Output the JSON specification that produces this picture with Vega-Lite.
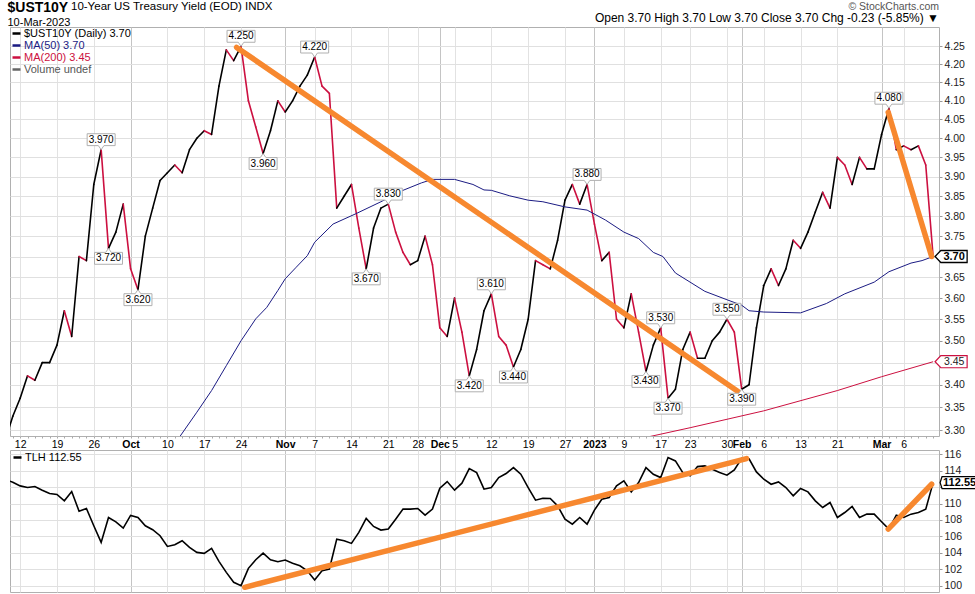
{
  "$schema": "https://vega.github.io/schema/vega-lite/v6.json",
  "background": "white",
  "padding": {"left": 7, "top": 0, "right": 0, "bottom": 0},
  "config": {
    "font": "Liberation Sans",
    "view": {"stroke": "#b0b0b0"},
    "axis": {"labelFont": "Liberation Sans", "labelFontSize": 10.5, "labelColor": "#222", "gridColor": "#e0e0e0", "tickColor": "#999", "domain": false, "title": null, "labelOverlap": false}
  },
  "title": {"text": "$UST10Y", "subtitle": "10-Mar-2023", "anchor": "start", "fontSize": 14, "fontWeight": "bold", "font": "Liberation Sans", "color": "#000", "subtitleFont": "Liberation Sans", "subtitleFontSize": 11, "subtitleColor": "#000", "subtitlePadding": 2, "offset": -28, "dx": -2},
  "spacing": 14,
  "bounds": "flush",
  "resolve": {"scale": {"color": "independent"}, "legend": {"color": "independent"}},
  "datasets": {
    "daily": [
      {"i":-1,"d":"2022-09-08","y10":3.28,"tlh":112.9},
      {"i":0,"d":"2022-09-09","y10":3.33,"tlh":112.6},
      {"i":1,"d":"2022-09-12","y10":3.37,"tlh":112.15},
      {"i":2,"d":"2022-09-13","y10":3.42,"tlh":111.95},
      {"i":3,"d":"2022-09-14","y10":3.41,"tlh":112.07},
      {"i":4,"d":"2022-09-15","y10":3.45,"tlh":111.63},
      {"i":5,"d":"2022-09-16","y10":3.45,"tlh":111.22},
      {"i":6,"d":"2022-09-19","y10":3.49,"tlh":111.10},
      {"i":7,"d":"2022-09-20","y10":3.57,"tlh":110.33},
      {"i":8,"d":"2022-09-21","y10":3.51,"tlh":111.46},
      {"i":9,"d":"2022-09-22","y10":3.70,"tlh":109.07},
      {"i":10,"d":"2022-09-23","y10":3.69,"tlh":109.40},
      {"i":11,"d":"2022-09-26","y10":3.88,"tlh":107.29},
      {"i":12,"d":"2022-09-27","y10":3.97,"tlh":105.27},
      {"i":13,"d":"2022-09-28","y10":3.72,"tlh":108.30},
      {"i":14,"d":"2022-09-29","y10":3.76,"tlh":107.78},
      {"i":15,"d":"2022-09-30","y10":3.83,"tlh":107.01},
      {"i":16,"d":"2022-10-03","y10":3.67,"tlh":108.55},
      {"i":17,"d":"2022-10-04","y10":3.62,"tlh":108.30},
      {"i":18,"d":"2022-10-05","y10":3.75,"tlh":107.29},
      {"i":19,"d":"2022-10-06","y10":3.82,"tlh":106.81},
      {"i":20,"d":"2022-10-07","y10":3.89,"tlh":106.08},
      {"i":21,"d":"2022-10-10","y10":3.91,"tlh":104.78},
      {"i":22,"d":"2022-10-11","y10":3.93,"tlh":104.98},
      {"i":23,"d":"2022-10-12","y10":3.91,"tlh":105.47},
      {"i":24,"d":"2022-10-13","y10":3.97,"tlh":104.66},
      {"i":25,"d":"2022-10-14","y10":4.00,"tlh":104.05},
      {"i":26,"d":"2022-10-17","y10":4.02,"tlh":103.93},
      {"i":27,"d":"2022-10-18","y10":4.01,"tlh":104.54},
      {"i":28,"d":"2022-10-19","y10":4.14,"tlh":102.96},
      {"i":29,"d":"2022-10-20","y10":4.24,"tlh":101.62},
      {"i":30,"d":"2022-10-21","y10":4.21,"tlh":100.41},
      {"i":31,"d":"2022-10-24","y10":4.25,"tlh":100.00},
      {"i":32,"d":"2022-10-25","y10":4.10,"tlh":102.11},
      {"i":33,"d":"2022-10-26","y10":4.03,"tlh":103.16},
      {"i":34,"d":"2022-10-27","y10":3.96,"tlh":103.97},
      {"i":35,"d":"2022-10-28","y10":4.02,"tlh":103.16},
      {"i":36,"d":"2022-10-31","y10":4.10,"tlh":102.92},
      {"i":37,"d":"2022-11-01","y10":4.07,"tlh":103.12},
      {"i":38,"d":"2022-11-02","y10":4.10,"tlh":102.72},
      {"i":39,"d":"2022-11-03","y10":4.14,"tlh":102.43},
      {"i":40,"d":"2022-11-04","y10":4.17,"tlh":101.82},
      {"i":41,"d":"2022-11-07","y10":4.22,"tlh":100.69},
      {"i":42,"d":"2022-11-08","y10":4.14,"tlh":101.82},
      {"i":43,"d":"2022-11-09","y10":4.12,"tlh":102.03},
      {"i":44,"d":"2022-11-10","y10":3.82,"tlh":105.67},
      {"i":45,"d":"2022-11-11","y10":3.85,"tlh":105.47},
      {"i":46,"d":"2022-11-14","y10":3.88,"tlh":105.15},
      {"i":47,"d":"2022-11-15","y10":3.77,"tlh":106.48},
      {"i":48,"d":"2022-11-16","y10":3.67,"tlh":108.18},
      {"i":49,"d":"2022-11-17","y10":3.77,"tlh":107.21},
      {"i":50,"d":"2022-11-18","y10":3.82,"tlh":106.77},
      {"i":51,"d":"2022-11-21","y10":3.83,"tlh":106.89},
      {"i":52,"d":"2022-11-22","y10":3.76,"tlh":108.10},
      {"i":53,"d":"2022-11-23","y10":3.71,"tlh":109.32},
      {"i":54,"d":"2022-11-25","y10":3.68,"tlh":109.32},
      {"i":55,"d":"2022-11-28","y10":3.69,"tlh":109.40},
      {"i":56,"d":"2022-11-29","y10":3.75,"tlh":108.59},
      {"i":57,"d":"2022-11-30","y10":3.68,"tlh":109.32},
      {"i":58,"d":"2022-12-01","y10":3.53,"tlh":111.87},
      {"i":59,"d":"2022-12-02","y10":3.51,"tlh":112.68},
      {"i":60,"d":"2022-12-05","y10":3.60,"tlh":111.63},
      {"i":61,"d":"2022-12-06","y10":3.52,"tlh":112.48},
      {"i":62,"d":"2022-12-07","y10":3.42,"tlh":114.26},
      {"i":63,"d":"2022-12-08","y10":3.48,"tlh":113.77},
      {"i":64,"d":"2022-12-09","y10":3.57,"tlh":111.75},
      {"i":65,"d":"2022-12-12","y10":3.61,"tlh":111.95},
      {"i":66,"d":"2022-12-13","y10":3.51,"tlh":113.16},
      {"i":67,"d":"2022-12-14","y10":3.49,"tlh":113.65},
      {"i":68,"d":"2022-12-15","y10":3.44,"tlh":114.38},
      {"i":69,"d":"2022-12-16","y10":3.48,"tlh":113.57},
      {"i":70,"d":"2022-12-19","y10":3.55,"tlh":111.95},
      {"i":71,"d":"2022-12-20","y10":3.69,"tlh":110.41},
      {"i":72,"d":"2022-12-21","y10":3.68,"tlh":110.65},
      {"i":73,"d":"2022-12-22","y10":3.67,"tlh":110.61},
      {"i":74,"d":"2022-12-23","y10":3.74,"tlh":109.72},
      {"i":75,"d":"2022-12-27","y10":3.84,"tlh":108.10},
      {"i":76,"d":"2022-12-28","y10":3.88,"tlh":107.49},
      {"i":77,"d":"2022-12-29","y10":3.83,"tlh":108.30},
      {"i":78,"d":"2022-12-30","y10":3.88,"tlh":107.49},
      {"i":79,"d":"2023-01-03","y10":3.78,"tlh":109.20},
      {"i":80,"d":"2023-01-04","y10":3.69,"tlh":110.53},
      {"i":81,"d":"2023-01-05","y10":3.71,"tlh":110.73},
      {"i":82,"d":"2023-01-06","y10":3.55,"tlh":112.15},
      {"i":83,"d":"2023-01-09","y10":3.53,"tlh":112.76},
      {"i":84,"d":"2023-01-10","y10":3.61,"tlh":111.42},
      {"i":85,"d":"2023-01-11","y10":3.52,"tlh":112.56},
      {"i":86,"d":"2023-01-12","y10":3.43,"tlh":114.38},
      {"i":87,"d":"2023-01-13","y10":3.49,"tlh":113.57},
      {"i":88,"d":"2023-01-17","y10":3.53,"tlh":113.16},
      {"i":89,"d":"2023-01-18","y10":3.37,"tlh":115.60},
      {"i":90,"d":"2023-01-19","y10":3.39,"tlh":115.19},
      {"i":91,"d":"2023-01-20","y10":3.48,"tlh":113.77},
      {"i":92,"d":"2023-01-23","y10":3.52,"tlh":113.37},
      {"i":93,"d":"2023-01-24","y10":3.46,"tlh":114.50},
      {"i":94,"d":"2023-01-25","y10":3.46,"tlh":114.58},
      {"i":95,"d":"2023-01-26","y10":3.50,"tlh":114.18},
      {"i":96,"d":"2023-01-27","y10":3.52,"tlh":113.77},
      {"i":97,"d":"2023-01-30","y10":3.55,"tlh":113.45},
      {"i":98,"d":"2023-01-31","y10":3.52,"tlh":114.10},
      {"i":99,"d":"2023-02-01","y10":3.39,"tlh":115.50},
      {"i":100,"d":"2023-02-02","y10":3.40,"tlh":115.45},
      {"i":101,"d":"2023-02-03","y10":3.53,"tlh":113.85},
      {"i":102,"d":"2023-02-06","y10":3.63,"tlh":112.96},
      {"i":103,"d":"2023-02-07","y10":3.67,"tlh":112.35},
      {"i":104,"d":"2023-02-08","y10":3.63,"tlh":112.64},
      {"i":105,"d":"2023-02-09","y10":3.67,"tlh":111.95},
      {"i":106,"d":"2023-02-10","y10":3.74,"tlh":110.94},
      {"i":107,"d":"2023-02-13","y10":3.72,"tlh":111.83},
      {"i":108,"d":"2023-02-14","y10":3.76,"tlh":111.42},
      {"i":109,"d":"2023-02-15","y10":3.81,"tlh":110.33},
      {"i":110,"d":"2023-02-16","y10":3.86,"tlh":109.52},
      {"i":111,"d":"2023-02-17","y10":3.82,"tlh":110.13},
      {"i":112,"d":"2023-02-21","y10":3.95,"tlh":108.30},
      {"i":113,"d":"2023-02-22","y10":3.93,"tlh":108.91},
      {"i":114,"d":"2023-02-23","y10":3.88,"tlh":109.64},
      {"i":115,"d":"2023-02-24","y10":3.95,"tlh":108.30},
      {"i":116,"d":"2023-02-27","y10":3.92,"tlh":108.71},
      {"i":117,"d":"2023-02-28","y10":3.92,"tlh":108.71},
      {"i":118,"d":"2023-03-01","y10":4.01,"tlh":107.78},
      {"i":119,"d":"2023-03-02","y10":4.08,"tlh":106.89},
      {"i":120,"d":"2023-03-03","y10":3.97,"tlh":108.59},
      {"i":121,"d":"2023-03-06","y10":3.98,"tlh":108.30},
      {"i":122,"d":"2023-03-07","y10":3.97,"tlh":108.71},
      {"i":123,"d":"2023-03-08","y10":3.98,"tlh":108.91},
      {"i":124,"d":"2023-03-09","y10":3.93,"tlh":109.32},
      {"i":125,"d":"2023-03-10","y10":3.70,"tlh":112.55}
    ],
    "ma50": [
      {"i":22,"v":3.27},{"i":25,"v":3.339},{"i":27,"v":3.387},{"i":29,"v":3.443},{"i":31,"v":3.50},
      {"i":33,"v":3.551},{"i":34.5,"v":3.578},{"i":36,"v":3.618},{"i":37,"v":3.646},{"i":38.5,"v":3.674},
      {"i":40,"v":3.702},{"i":41,"v":3.735},{"i":43.5,"v":3.78},{"i":46.5,"v":3.805},{"i":50,"v":3.836},
      {"i":53,"v":3.865},{"i":55.5,"v":3.884},{"i":57,"v":3.893},{"i":60,"v":3.893},{"i":62.5,"v":3.88},
      {"i":64,"v":3.866},{"i":65,"v":3.865},{"i":67.5,"v":3.851},{"i":70,"v":3.84},{"i":72,"v":3.836},
      {"i":75,"v":3.823},{"i":78,"v":3.815},{"i":80.5,"v":3.79},{"i":83,"v":3.76},{"i":85,"v":3.744},
      {"i":87,"v":3.71},{"i":88.3,"v":3.70},{"i":90,"v":3.66},{"i":94,"v":3.616},{"i":97,"v":3.596},
      {"i":99,"v":3.583},{"i":100,"v":3.57},{"i":102,"v":3.567},{"i":107,"v":3.565},{"i":110.5,"v":3.587},
      {"i":113,"v":3.61},{"i":117,"v":3.638},{"i":119,"v":3.663},{"i":122,"v":3.684},{"i":123.5,"v":3.69},
      {"i":125,"v":3.70}
    ],
    "ma200": [
      {"i":86,"v":3.284},{"i":92,"v":3.305},{"i":102,"v":3.342},{"i":112,"v":3.387},{"i":118,"v":3.418},{"i":125,"v":3.452}
    ],
    "labels": [
      {"i":12,"v":3.97,"t":"3.970","pos":"up"},
      {"i":13,"v":3.72,"t":"3.720","pos":"down"},
      {"i":17,"v":3.62,"t":"3.620","pos":"down"},
      {"i":31,"v":4.25,"t":"4.250","pos":"up"},
      {"i":34,"v":3.96,"t":"3.960","pos":"down"},
      {"i":41,"v":4.22,"t":"4.220","pos":"up"},
      {"i":48,"v":3.67,"t":"3.670","pos":"down"},
      {"i":51,"v":3.83,"t":"3.830","pos":"up"},
      {"i":62,"v":3.42,"t":"3.420","pos":"down"},
      {"i":65,"v":3.61,"t":"3.610","pos":"up"},
      {"i":68,"v":3.44,"t":"3.440","pos":"down"},
      {"i":78,"v":3.88,"t":"3.880","pos":"up"},
      {"i":86,"v":3.43,"t":"3.430","pos":"down"},
      {"i":88,"v":3.53,"t":"3.530","pos":"up"},
      {"i":89,"v":3.37,"t":"3.370","pos":"down"},
      {"i":97,"v":3.55,"t":"3.550","pos":"up"},
      {"i":99,"v":3.39,"t":"3.390","pos":"down"},
      {"i":119,"v":4.08,"t":"4.080","pos":"up"}
    ],
    "trendTop": [
      {"i1":30.4,"v1":4.247,"i2":98.5,"v2":3.385},
      {"i1":118.9,"v1":4.069,"i2":124.8,"v2":3.70}
    ],
    "trendBot": [
      {"i1":31.5,"v1":99.8,"i2":99.66,"v2":115.48},
      {"i1":118.9,"v1":106.89,"i2":124.8,"v2":112.35}
    ],
    "tags": [
      {"i":125,"v":3.70,"t":"3.70","k":"px"},
      {"i":125,"v":3.452,"t":"3.45","k":"ma200"},
      {"i":125,"v":112.55,"t":"112.55","k":"tlh"}
    ]
  },
  "vconcat": [
    {
      "width": 929,
      "height": 409,
      "title": {"text": "© StockCharts.com", "subtitle": "Open 3.70  High 3.70  Low 3.70  Close 3.70  Chg -0.23 (-5.85%) ▼", "anchor": "end", "frame": "group", "font": "Liberation Sans", "fontSize": 10.5, "fontWeight": "normal", "color": "#555", "subtitleFont": "Liberation Sans", "subtitleFontSize": 12, "subtitleColor": "#000", "subtitlePadding": 1, "offset": 3},
      "layer": [
        {
          "data": {"name": "daily"},
          "transform": [
            {"window": [{"op": "lag", "field": "y10", "as": "pv"}, {"op": "lag", "field": "i", "as": "pi"}], "sort": [{"field": "i", "order": "ascending"}]},
            {"filter": "datum.pv != null"}
          ],
          "mark": {"type": "rule", "strokeWidth": 1.6, "clip": true, "strokeCap": "round"},
          "encoding": {
            "x": {"field": "pi", "type": "quantitative",
              "scale": {"domain": [-0.38, 125.8], "nice": false, "zero": false},
              "axis": {
                "values": [0,1,2,3,4,5,6,7,8,9,10,11,12,13,14,15,16,17,18,19,20,21,22,23,24,25,26,27,28,29,30,31,32,33,34,35,36,37,38,39,40,41,42,43,44,45,46,47,48,49,50,51,52,53,54,55,56,57,58,59,60,61,62,63,64,65,66,67,68,69,70,71,72,73,74,75,76,77,78,79,80,81,82,83,84,85,86,87,88,89,90,91,92,93,94,95,96,97,98,99,100,101,102,103,104,105,106,107,108,109,110,111,112,113,114,115,116,117,118,119,120,121,122,123,124,125],
                "tickCount": 1000,
                "labelExpr": "indexof([1,6,11,16,21,26,31,37,41,46,51,55,58,60,65,70,75,79,83,88,92,97,99,102,107,112,118,121], datum.value) >= 0 ? ['12','19','26','Oct','10','17','24','Nov','7','14','21','28','Dec','5','12','19','27','2023','9','17','23','30','Feb','6','13','21','Mar','6'][indexof([1,6,11,16,21,26,31,37,41,46,51,55,58,60,65,70,75,79,83,88,92,97,99,102,107,112,118,121], datum.value)] : ''",
                "labelFontWeight": {"condition": {"test": "indexof([16,37,58,79,99,118], datum.value) >= 0", "value": "bold"}, "value": "normal"},
                "gridColor": {"condition": {"test": "indexof([16,37,58,79,99,118], datum.value) >= 0", "value": "#c4c4c4"}, "value": "#e2e2e2"},
                "gridOpacity": {"condition": {"test": "indexof([1,6,11,16,21,26,31,37,41,46,51,55,58,60,65,70,75,79,83,88,92,97,99,102,107,112,118,121], datum.value) >= 0", "value": 1}, "value": 0},
                "labelFontSize": 10.5, "labelColor": "#000", "tickSize": 2, "tickColor": "#aaa", "labelPadding": 1, "labelOverlap": false, "labelFlush": false, "labelBound": false, "title": null
              }
            },
            "x2": {"field": "i"},
            "y": {"field": "pv", "type": "quantitative",
              "scale": {"type": "log", "domain": [3.287, 4.3045], "nice": false, "zero": false},
              "axis": {
                "orient": "right",
                "values": [3.30,3.35,3.40,3.45,3.50,3.55,3.60,3.65,3.70,3.75,3.80,3.85,3.90,3.95,4.00,4.05,4.10,4.15,4.20,4.25],
                "tickCount": 1000,
                "labelExpr": "abs(datum.value-3.7)<0.001 || abs(datum.value-3.45)<0.001 ? '' : format(datum.value, '.2f')",
                "tickSize": 3, "labelPadding": 2, "labelOverlap": false, "title": null
              }
            },
            "y2": {"field": "y10"},
            "color": {"condition": {"test": "datum.y10 >= datum.pv", "value": "#000000"}, "value": "#cc1040"}
          }
        },
        {
          "data": {"name": "ma50"},
          "mark": {"type": "line", "strokeWidth": 1, "clip": true},
          "encoding": {
            "x": {"field": "i", "type": "quantitative"},
            "y": {"field": "v", "type": "quantitative"},
            "color": {"datum": "MA(50) 3.70", "type": "nominal",
              "scale": {"domain": ["$UST10Y (Daily) 3.70", "MA(50) 3.70", "MA(200) 3.45", "Volume undef"], "range": ["#000000", "#1b1b83", "#cc1040", "#666666"]},
              "legend": {"orient": "top-left", "title": null, "offset": 1, "padding": 0, "symbolType": "stroke", "symbolSize": 64, "symbolStrokeWidth": 2.5, "labelFont": "Liberation Sans", "labelFontSize": 11, "rowPadding": 0, "labelOffset": 2,
                "encode": {"labels": {"update": {"fill": {"signal": "datum.value == 'MA(50) 3.70' ? '#1b1b83' : datum.value == 'MA(200) 3.45' ? '#cc1040' : datum.value == 'Volume undef' ? '#555555' : '#000000'"}}}}}
            }
          }
        },
        {
          "data": {"name": "ma200"},
          "mark": {"type": "line", "strokeWidth": 1, "clip": true},
          "encoding": {
            "x": {"field": "i", "type": "quantitative"},
            "y": {"field": "v", "type": "quantitative"},
            "color": {"datum": "MA(200) 3.45", "type": "nominal"}
          }
        },
        {
          "data": {"name": "trendTop"},
          "mark": {"type": "rule", "color": "#f7882f", "strokeWidth": 5.5, "strokeCap": "round"},
          "encoding": {
            "x": {"field": "i1", "type": "quantitative"},
            "x2": {"field": "i2"},
            "y": {"field": "v1", "type": "quantitative"},
            "y2": {"field": "v2"}
          }
        },
        {
          "data": {"name": "labels"},
          "mark": {"type": "point", "filled": true, "fill": "#ffffff", "stroke": "#b0b0b0", "strokeWidth": 1, "opacity": 1, "size": 784},
          "encoding": {
            "x": {"field": "i", "type": "quantitative"},
            "y": {"field": "v", "type": "quantitative"},
            "shape": {"field": "pos", "type": "nominal", "legend": null,
              "scale": {"domain": ["up", "down"], "range": ["M-1,-1.14H1V-0.29H0.2L0,0L-0.2,-0.29H-1Z", "M-1,1.14H1V0.29H0.2L0,0L-0.2,0.29H-1Z"]}}
          }
        },
        {
          "data": {"name": "labels"},
          "transform": [{"filter": "datum.pos == 'up'"}],
          "mark": {"type": "text", "dy": -10, "baseline": "middle", "font": "Liberation Sans", "fontSize": 10, "color": "#000"},
          "encoding": {
            "x": {"field": "i", "type": "quantitative"},
            "y": {"field": "v", "type": "quantitative"},
            "text": {"field": "t"}
          }
        },
        {
          "data": {"name": "labels"},
          "transform": [{"filter": "datum.pos == 'down'"}],
          "mark": {"type": "text", "dy": 10, "baseline": "middle", "font": "Liberation Sans", "fontSize": 10, "color": "#000"},
          "encoding": {
            "x": {"field": "i", "type": "quantitative"},
            "y": {"field": "v", "type": "quantitative"},
            "text": {"field": "t"}
          }
        },
        {
          "data": {"name": "tags"},
          "transform": [{"filter": "datum.k == 'px'"}],
          "mark": {"type": "point", "filled": true, "fill": "#ffffff", "stroke": "#000000", "strokeWidth": 1.3, "opacity": 1, "size": 784, "shape": "M0.14,0L0.55,-0.43H2.43V0.43H0.55Z"},
          "encoding": {
            "x": {"field": "i", "type": "quantitative"},
            "y": {"field": "v", "type": "quantitative"}
          }
        },
        {
          "data": {"name": "tags"},
          "transform": [{"filter": "datum.k == 'px'"}],
          "mark": {"type": "text", "dx": 21, "baseline": "middle", "align": "center", "font": "Liberation Sans", "fontSize": 11, "fontWeight": "bold", "color": "#000"},
          "encoding": {
            "x": {"field": "i", "type": "quantitative"},
            "y": {"field": "v", "type": "quantitative"},
            "text": {"field": "t"}
          }
        },
        {
          "data": {"name": "tags"},
          "transform": [{"filter": "datum.k == 'ma200'"}],
          "mark": {"type": "point", "filled": true, "fill": "#ffffff", "stroke": "#cc1040", "strokeWidth": 1.2, "opacity": 1, "size": 784, "shape": "M0.14,0L0.55,-0.43H2.43V0.43H0.55Z"},
          "encoding": {
            "x": {"field": "i", "type": "quantitative"},
            "y": {"field": "v", "type": "quantitative"}
          }
        },
        {
          "data": {"name": "tags"},
          "transform": [{"filter": "datum.k == 'ma200'"}],
          "mark": {"type": "text", "dx": 21, "baseline": "middle", "align": "center", "font": "Liberation Sans", "fontSize": 10.5, "color": "#222"},
          "encoding": {
            "x": {"field": "i", "type": "quantitative"},
            "y": {"field": "v", "type": "quantitative"},
            "text": {"field": "t"}
          }
        }
      ]
    },
    {
      "width": 929,
      "height": 142,
      "title": {"text": "10-Year US Treasury Yield (EOD)  INDX", "anchor": "start", "frame": "group", "font": "Liberation Sans", "fontSize": 11.5, "fontWeight": "normal", "color": "#000", "dx": 61, "dy": -437, "offset": 0},
      "layer": [
        {
          "data": {"name": "daily"},
          "mark": {"type": "line", "strokeWidth": 1.6, "clip": true},
          "encoding": {
            "x": {"field": "i", "type": "quantitative",
              "scale": {"domain": [-0.38, 125.8], "nice": false, "zero": false},
              "axis": {
                "values": [1,6,11,16,21,26,31,37,41,46,51,55,58,60,65,70,75,79,83,88,92,97,99,102,107,112,118,121],
                "tickCount": 1000,
                "labels": false, "ticks": false, "title": null,
                "gridColor": {"condition": {"test": "indexof([16,37,58,79,99,118], datum.value) >= 0", "value": "#c4c4c4"}, "value": "#e2e2e2"}
              }
            },
            "y": {"field": "tlh", "type": "quantitative",
              "scale": {"domain": [99.23, 116.52], "nice": false, "zero": false},
              "axis": {"orient": "right", "values": [100,102,104,106,108,110,112,114,116], "tickCount": 1000, "labelExpr": "datum.value == 112 ? '' : format(datum.value, 'd')", "tickSize": 3, "labelPadding": 2, "labelOverlap": false, "labelFlush": false, "title": null}
            },
            "color": {"datum": "TLH 112.55", "type": "nominal",
              "scale": {"range": ["#000000"]},
              "legend": {"orient": "top-left", "title": null, "offset": 2, "padding": 0, "symbolType": "stroke", "symbolSize": 64, "symbolStrokeWidth": 2.5, "labelFont": "Liberation Sans", "labelFontSize": 11, "labelColor": "#000", "labelOffset": 2}
            }
          }
        },
        {
          "data": {"name": "trendBot"},
          "mark": {"type": "rule", "color": "#f7882f", "strokeWidth": 5.5, "strokeCap": "round"},
          "encoding": {
            "x": {"field": "i1", "type": "quantitative"},
            "x2": {"field": "i2"},
            "y": {"field": "v1", "type": "quantitative"},
            "y2": {"field": "v2"}
          }
        },
        {
          "data": {"name": "tags"},
          "transform": [{"filter": "datum.k == 'tlh'"}],
          "mark": {"type": "point", "filled": true, "fill": "#ffffff", "stroke": "#000000", "strokeWidth": 1.3, "opacity": 1, "size": 784, "shape": "M0.5,0L0.64,-0.43H3.14V0.43H0.64Z"},
          "encoding": {
            "x": {"field": "i", "type": "quantitative"},
            "y": {"field": "v", "type": "quantitative"}
          }
        },
        {
          "data": {"name": "tags"},
          "transform": [{"filter": "datum.k == 'tlh'"}],
          "mark": {"type": "text", "dx": 26.5, "baseline": "middle", "align": "center", "font": "Liberation Sans", "fontSize": 11, "fontWeight": "bold", "color": "#000"},
          "encoding": {
            "x": {"field": "i", "type": "quantitative"},
            "y": {"field": "v", "type": "quantitative"},
            "text": {"field": "t"}
          }
        }
      ]
    }
  ]
}
